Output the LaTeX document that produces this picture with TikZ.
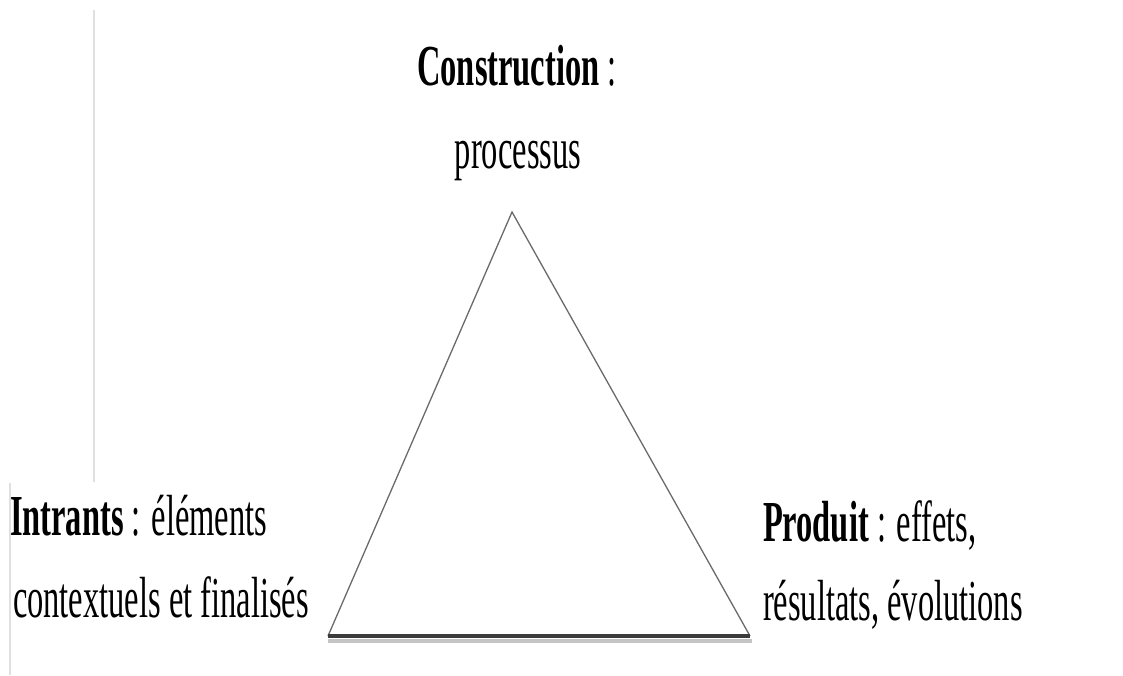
\documentclass[tikz,border=0pt]{standalone}
\usepackage{fontspec}
\newfontfamily\cf[FakeStretch=0.56]{Liberation Serif}
\definecolor{sidegray}{HTML}{6A6A6A}
\definecolor{basedark}{HTML}{3C3C3C}
\definecolor{baseshadow}{HTML}{C4C4C4}
\definecolor{rulegray}{HTML}{E0E0E0}
\begin{document}
\begin{tikzpicture}[x=1pt,y=-1pt,
  lbl/.style={inner sep=0pt,outer sep=0pt,font=\cf\fontsize{58}{60}\selectfont},
  side/.style={draw=sidegray,line width=1.3pt},
  rulev/.style={draw=rulegray,line width=2.2pt}]
\useasboundingbox (0,0) rectangle (1123,675);
% light vertical rules
\coordinate (r1a) at (94,10);
\coordinate (r1b) at (94,482);
\coordinate (r2a) at (10,483);
\coordinate (r2b) at (10,675);
\draw[rulev] (r1a) -- (r1b);
\draw[rulev] (r2a) -- (r2b);
% triangle
\coordinate (apex) at (512,212);
\coordinate (bl) at (328,636);
\coordinate (br) at (750,636);
\coordinate (bls) at (328,640.5);
\coordinate (brs) at (752,640.5);
\draw[draw=baseshadow,line width=4pt] (bls) -- (brs);
\draw[side] (bl) -- (apex) -- (br);
\draw[draw=basedark,line width=3.6pt] (bl) -- (br);
% labels
\node[lbl,anchor=base] (cons) at (517,85) {\textbf{Construction} :};
\node[lbl,anchor=base] (proc) at (518,168) {processus};
\node[lbl,anchor=base west] (intr) at (10,535) {\textbf{Intrants} : éléments};
\node[lbl,anchor=base west] (cont) at (13,617) {contextuels et finalisés};
\node[lbl,anchor=base west] (prod) at (763,541) {\textbf{Produit} : effets,};
\node[lbl,anchor=base west] (resu) at (763,620) {résultats, évolutions};
\end{tikzpicture}
\end{document}
